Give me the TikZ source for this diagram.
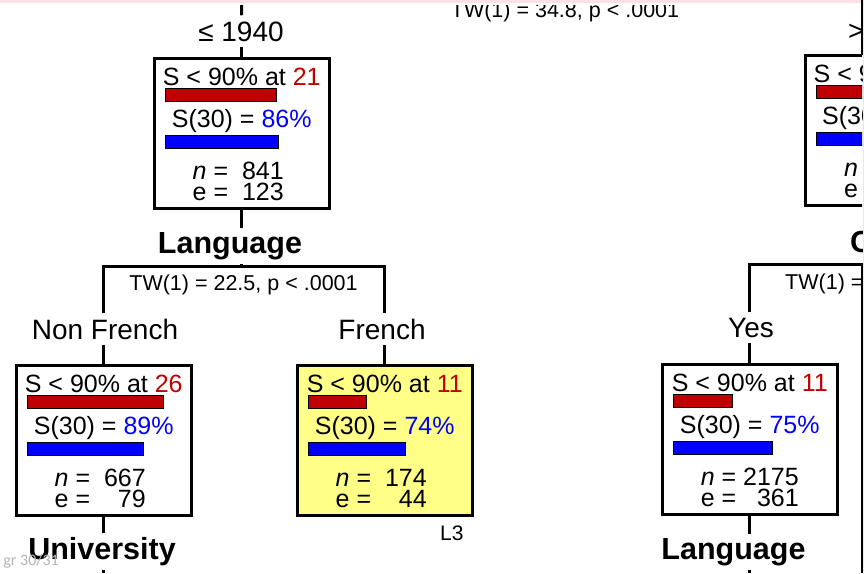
\documentclass[tikz,border=0pt]{standalone}
\usepackage{fontspec}
\setmainfont{Liberation Sans}
\newfontfamily\pagenumfont{Carlito}

\definecolor{barred}{RGB}{192,0,0}
\definecolor{barblue}{RGB}{0,0,255}
\definecolor{leafyellow}{RGB}{255,255,136}
\definecolor{pagegray}{RGB}{180,180,180}
\definecolor{topband}{RGB}{250,226,226}
\definecolor{edgegray}{RGB}{232,232,232}

\tikzset{
  nodebox/.style={draw=black, line width=3pt, minimum width=175.5pt, minimum height=150pt,
    inner sep=0pt, outer sep=0pt, anchor=north west},
  boxtext/.style={font=\fontsize{25}{28}\selectfont, inner sep=0pt, anchor=base},
  boxtextleft/.style={boxtext, anchor=base west},
  splitlabel/.style={font=\bfseries\fontsize{30.5}{34}\selectfont, inner xsep=0pt, inner ysep=4pt, anchor=base},
  branchlabel/.style={font=\fontsize{28}{32}\selectfont, inner xsep=0pt, inner ysep=6pt, anchor=base},
  teststat/.style={font=\fontsize{21.5}{24}\selectfont, inner sep=0pt, anchor=base},
  link/.style={draw=black, line width=3pt},
  framerule/.style={draw=black, line width=2pt},
  redbar/.style={fill=barred, draw=black, line width=0.8pt},
  bluebar/.style={fill=barblue, draw=black, line width=0.8pt},
}

% survival node: name, left, top, fill, age where S < 90%, S(30), red bar length, blue bar length
\newcommand\survnode[8]{%
  \node[nodebox, fill=#4] (#1) at (#2,#3) {};
  \node[boxtext] (#1-lo) at ([yshift=-27pt]#1.north) {S < 90\% at \textcolor{barred}{#5}};
  \draw[redbar] ([xshift=11pt,yshift=-30pt]#1.north west) rectangle ++(#7pt,-13.5pt);
  \node[boxtext] (#1-s) at ([yshift=-69.5pt]#1.north) {S(30) = \textcolor{barblue}{#6\%}};
  \draw[bluebar] ([xshift=11pt,yshift=-77.5pt]#1.north west) rectangle ++(#8pt,-13pt);
}
% counts: node name, x offset, digit template, n, e
\newcommand\survcounts[5]{%
  \node[boxtext] (#1-n) at ([xshift=#2pt,yshift=-121pt]#1.north) {\textit{n} =\ \phantom{#3}\llap{#4}};
  \node[boxtext] (#1-e) at ([xshift=#2pt,yshift=-142.5pt]#1.north) {e =\ \phantom{#3}\llap{#5}};
}

\begin{document}
\begin{tikzpicture}[x=1pt,y=-1pt]
\useasboundingbox (0,0) rectangle (864,573);
\fill[white] (0,0) rectangle (864,573);
\fill[edgegray] (863,0) rectangle (864,573);

\begin{scope}
\clip (0,5.5) rectangle (862,573);

% split labels, branch labels and test statistics
\node[teststat] (tw0) at (565,17) {TW(1) = 34.8, p < .0001};
\node[branchlabel] (le1940) at (241,41) {≤ 1940};
\node[branchlabel, anchor=base west] (gt1940) at (848,40) {> 1940};
\node[splitlabel] (lang1) at (230,253) {Language};
\node[teststat] (tw1) at (243.5,290) {TW(1) = 22.5, p < .0001};
\node[branchlabel] (nonfr) at (105,339) {Non French};
\node[branchlabel] (fr) at (382,339) {French};
\node[branchlabel] (yes) at (751,337) {Yes};
\node[splitlabel, anchor=base west] (clabel) at (850,252) {C};
\node[teststat, anchor=base west] (tw2) at (785,289.5) {TW(1) =};
\node[splitlabel] (lang2) at (733.5,559) {Language};
\node[font=\fontsize{21}{24}\selectfont, inner sep=0pt, anchor=base west] (leafid) at (440,540) {L3};

% tree nodes
\survnode{box1}{154}{58}{white}{21}{86}{111}{113}
\survcounts{box1}{-3.5}{\ 000}{841}{123}
\survnode{box2}{16}{365}{white}{26}{89}{136}{116}
\survcounts{box2}{-3.5}{\ 000}{667}{79}
\survnode{box3}{297}{365}{leafyellow}{11}{74}{58}{97}
\survcounts{box3}{-3.5}{\ 000}{174}{44}
\survnode{box4}{662}{364}{white}{11}{75}{59}{99}
\survcounts{box4}{0}{0000}{2175}{361}

% right-hand node, only its left part shows
\node[nodebox, fill=white] (box5) at (805,55) {};
\node[boxtextleft] (box5-lo) at ([xshift=8.5pt,yshift=-27pt]box5.north west) {S < 90\% at};
\draw[redbar] ([xshift=11pt,yshift=-30pt]box5.north west) rectangle ++(100pt,-13.5pt);
\node[boxtextleft] (box5-s) at ([xshift=17pt,yshift=-69.5pt]box5.north west) {S(30) =};
\draw[bluebar] ([xshift=11pt,yshift=-77.5pt]box5.north west) rectangle ++(100pt,-13pt);
\node[boxtextleft] (box5-n) at ([xshift=39pt,yshift=-121pt]box5.north west) {\textit{n} =};
\node[boxtextleft] (box5-e) at ([xshift=39pt,yshift=-142.5pt]box5.north west) {e =};

\node[splitlabel] (univ) at (102,559) {University};

% connectors
\coordinate (rootdrop) at (241.5,0);
\coordinate (split1) at (241.5,266.7);
\coordinate (split2) at (864,264);
\coordinate (bottomedge) at (0,573);
\draw[link] (rootdrop) -- (box1.north |- le1940.north);
\draw[link] (box1.north |- le1940.south) -- (box1.north);
\draw[link] (box1.south) -- (box1.south |- lang1.north);
\draw[link] (box1.south |- lang1.south) -- (box1.south |- split1);
\draw[link] (box2.north |- nonfr.north) -- (box2.north |- split1) -- (box3.north |- split1) -- (box3.north |- fr.north);
\draw[link] (box2.north |- nonfr.south) -- (box2.north);
\draw[link] (box3.north |- fr.south) -- (box3.north);
\draw[link] (box2.south) -- (box2.south |- univ.north);
\draw[link] (box2.south |- univ.south) -- (box2.south |- bottomedge);
\draw[link] (box4.north |- yes.north) -- (box4.north |- split2) -- (split2);
\draw[link] (box4.north |- yes.south) -- (box4.north);
\draw[link] (box4.south) -- (box4.south |- lang2.north);
\draw[link] (box4.south |- lang2.south) -- (box4.south |- bottomedge);

% slide number
\node[font=\pagenumfont\fontsize{16}{18}\selectfont, text=pagegray, inner sep=0pt, anchor=base east] (pagenum) at (59,565) {gr 30/31};
\end{scope}

% window edge
\fill[topband] (0,0) rectangle (864,2.5);
\coordinate (frame-a) at (862,0);
\coordinate (frame-b) at (862,55);
\coordinate (frame-c) at (862,263);
\coordinate (frame-d) at (862,573);
\draw[framerule] (frame-a) -- (frame-b);
\draw[framerule] (frame-c) -- (frame-d);
\end{tikzpicture}
\end{document}
